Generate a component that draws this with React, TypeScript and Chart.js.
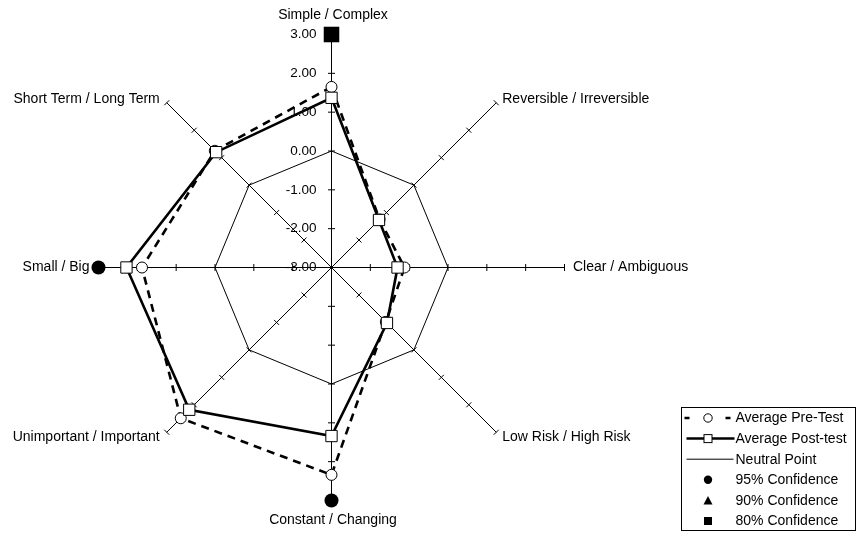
import React, { useEffect, useRef } from 'react';
import { Chart, registerables } from 'chart.js';

Chart.register(...registerables);

const CATEGORIES = [
  'Simple / Complex',
  'Reversible / Irreversible',
  'Clear / Ambiguous',
  'Low Risk / High Risk',
  'Constant / Changing',
  'Unimportant / Important',
  'Small / Big',
  'Short Term / Long Term',
];
const PRE_TEST = [1.65, -1.25, -1.12, -1.02, 2.34, 2.49, 1.88, 1.25];
const POST_TEST = [1.37, -1.27, -1.3, -0.98, 1.34, 2.18, 2.28, 1.2];
const NEUTRAL = [0, 0, 0, 0, 0, 0, 0, 0];
const CONF_95 = [null, null, null, null, 3, null, 3, null];
const CONF_90 = [null, null, null, null, null, null, null, null];
const CONF_80 = [3, null, null, null, null, null, null, null];
const TICK_VALUES = [-3, -2, -1, 0, 1, 2, 3];
const TICK_LABELS = ['-3.00', '-2.00', '-1.00', '0.00', '1.00', '2.00', '3.00'];
const LEGEND_LABELS = [
  'Average Pre-Test',
  'Average Post-test',
  'Neutral Point',
  '95% Confidence',
  '90% Confidence',
  '80% Confidence',
];

const FONT = '"Liberation Sans", Arial, sans-serif';

const overlayPlugin = {
  id: 'overlay',
  afterLayout(chart: any) {
    const s = chart.scales.r;
    s.xCenter += 0.5;
    s.yCenter += 0.5;
  },
  beforeDatasetsDraw(chart: any) {
    const scale = chart.scales.r;
    const ctx = chart.ctx;
    ctx.save();
    // tick marks on each spoke
    ctx.strokeStyle = '#000';
    ctx.lineWidth = 1;
    for (let i = 0; i < CATEGORIES.length; i++) {
      for (const v of TICK_VALUES) {
        if (v === scale.min) continue;
        const p = scale.getPointPositionForValue(i, v);
        const px = -Math.sin(p.angle);
        const py = Math.cos(p.angle);
        ctx.beginPath();
        ctx.moveTo(p.x - px * 3.5, p.y - py * 3.5);
        ctx.lineTo(p.x + px * 3.5, p.y + py * 3.5);
        ctx.stroke();
      }
    }
    // tick labels
    ctx.fillStyle = '#000';
    ctx.font = '13.5px ' + FONT;
    ctx.textAlign = 'right';
    ctx.textBaseline = 'middle';
    TICK_VALUES.forEach((v, k) => {
      const d = scale.getDistanceFromCenterForValue(v);
      ctx.fillText(TICK_LABELS[k], scale.xCenter - 15, scale.yCenter - d);
    });
    // point labels
    ctx.font = '14px ' + FONT;
    CATEGORIES.forEach((label, i) => {
      const p = scale.getPointPosition(i, scale.drawingArea);
      const c = Math.cos(p.angle);
      const s = Math.sin(p.angle);
      let x = p.x;
      let y = p.y;
      let align = 'center';
      if (Math.abs(c) < 0.01) {
        align = 'center';
        x += 1.5;
        y += s * 19.5;
      } else if (Math.abs(s) < 0.01) {
        align = c > 0 ? 'left' : 'right';
        x += c > 0 ? 8.5 : -9;
      } else {
        align = c > 0 ? 'left' : 'right';
        x += c > 0 ? 6 : -7;
        y += s > 0 ? 5 : -4;
      }
      ctx.textAlign = align;
      ctx.fillText(label, x, y);
    });
    ctx.restore();
  },
  afterDraw(chart: any) {
    const ctx = chart.ctx;
    ctx.save();
    const bx = 681.5;
    const by = 407.5;
    const bw = 174;
    const bh = 123;
    ctx.fillStyle = '#fff';
    ctx.fillRect(bx, by, bw, bh);
    ctx.strokeStyle = '#000';
    ctx.lineWidth = 1;
    ctx.strokeRect(bx, by, bw, bh);
    const sx = bx + 26.5;
    ctx.font = '14px ' + FONT;
    ctx.textAlign = 'left';
    ctx.textBaseline = 'middle';
    LEGEND_LABELS.forEach((lab, k) => {
      const y = 418 + k * 20.6;
      ctx.save();
      ctx.strokeStyle = '#000';
      ctx.fillStyle = '#000';
      if (k === 0) {
        ctx.lineWidth = 2.5;
        ctx.setLineDash([5, 36]);
        ctx.beginPath();
        ctx.moveTo(bx + 3, y);
        ctx.lineTo(bx + 50, y);
        ctx.stroke();
        ctx.setLineDash([]);
        ctx.lineWidth = 1;
        ctx.fillStyle = '#fff';
        ctx.beginPath();
        ctx.arc(sx, y, 4.2, 0, Math.PI * 2);
        ctx.fill();
        ctx.stroke();
      } else if (k === 1) {
        ctx.lineWidth = 2.5;
        ctx.beginPath();
        ctx.moveTo(bx + 5, y);
        ctx.lineTo(bx + 53, y);
        ctx.stroke();
        ctx.lineWidth = 1;
        ctx.fillStyle = '#fff';
        ctx.fillRect(sx - 4, y - 4, 8, 8);
        ctx.strokeRect(sx - 4, y - 4, 8, 8);
      } else if (k === 2) {
        ctx.lineWidth = 1;
        ctx.beginPath();
        ctx.moveTo(bx + 5, y);
        ctx.lineTo(bx + 52, y);
        ctx.stroke();
      } else if (k === 3) {
        ctx.beginPath();
        ctx.arc(sx, y, 4.2, 0, Math.PI * 2);
        ctx.fill();
      } else if (k === 4) {
        ctx.beginPath();
        ctx.moveTo(sx, y - 4.5);
        ctx.lineTo(sx + 4.5, y + 4);
        ctx.lineTo(sx - 4.5, y + 4);
        ctx.closePath();
        ctx.fill();
      } else {
        ctx.fillRect(sx - 4, y - 4, 8, 8);
      }
      ctx.restore();
      ctx.fillStyle = '#000';
      ctx.fillText(lab, bx + 54, y + 0.5);
    });
    ctx.restore();
  },
};

export default function App() {
  const ref = useRef<HTMLCanvasElement | null>(null);
  useEffect(() => {
    document.body.style.margin = '0';
    const canvas = ref.current;
    if (!canvas) return;
    const chart = new Chart(canvas, {
      type: 'radar',
      data: {
        labels: CATEGORIES,
        datasets: [
          {
            label: '80% Confidence',
            data: CONF_80,
            showLine: false,
            pointStyle: 'rect',
            pointRadius: 11,
            pointBackgroundColor: '#000',
            pointBorderColor: '#000',
            pointBorderWidth: 0,
            clip: false,
          },
          {
            label: '90% Confidence',
            data: CONF_90,
            showLine: false,
            pointStyle: 'triangle',
            pointRadius: 7,
            pointBackgroundColor: '#000',
            pointBorderColor: '#000',
            clip: false,
          },
          {
            label: '95% Confidence',
            data: CONF_95,
            showLine: false,
            pointStyle: 'circle',
            pointRadius: 7,
            pointBackgroundColor: '#000',
            pointBorderColor: '#000',
            pointBorderWidth: 0,
            clip: false,
          },
          {
            label: 'Average Post-test',
            data: POST_TEST,
            borderColor: '#000',
            borderWidth: 2.6,
            fill: false,
            pointStyle: 'rect',
            pointRadius: 8,
            pointBackgroundColor: '#fff',
            pointBorderColor: '#000',
            pointBorderWidth: 1,
            clip: false,
          },
          {
            label: 'Average Pre-Test',
            data: PRE_TEST,
            borderColor: '#000',
            borderWidth: 2.6,
            borderDash: [8, 6],
            fill: false,
            pointStyle: 'circle',
            pointRadius: 5.5,
            pointBackgroundColor: '#fff',
            pointBorderColor: '#000',
            pointBorderWidth: 1,
            clip: false,
          },
          {
            label: 'Neutral Point',
            data: NEUTRAL,
            borderColor: '#000',
            borderWidth: 1,
            fill: false,
            pointRadius: 0,
            clip: false,
          },
        ],
      },
      options: {
        responsive: false,
        animation: false,
        devicePixelRatio: 1,
        layout: { padding: { left: 98, right: 294, top: 34, bottom: 35 } },
        plugins: {
          legend: { display: false },
          tooltip: { enabled: false },
        },
        elements: { line: { tension: 0 } },
        scales: {
          r: {
            min: -3,
            max: 3,
            ticks: { display: false, stepSize: 1 },
            grid: { display: false },
            angleLines: { display: true, color: '#000', lineWidth: 1 },
            pointLabels: { display: false },
          },
        },
      },
      plugins: [overlayPlugin],
    } as any);
    return () => chart.destroy();
  }, []);
  return (
    <div style={{ width: 858, height: 535 }}>
      <canvas ref={ref} width={858} height={535} style={{ display: 'block' }} />
    </div>
  );
}
